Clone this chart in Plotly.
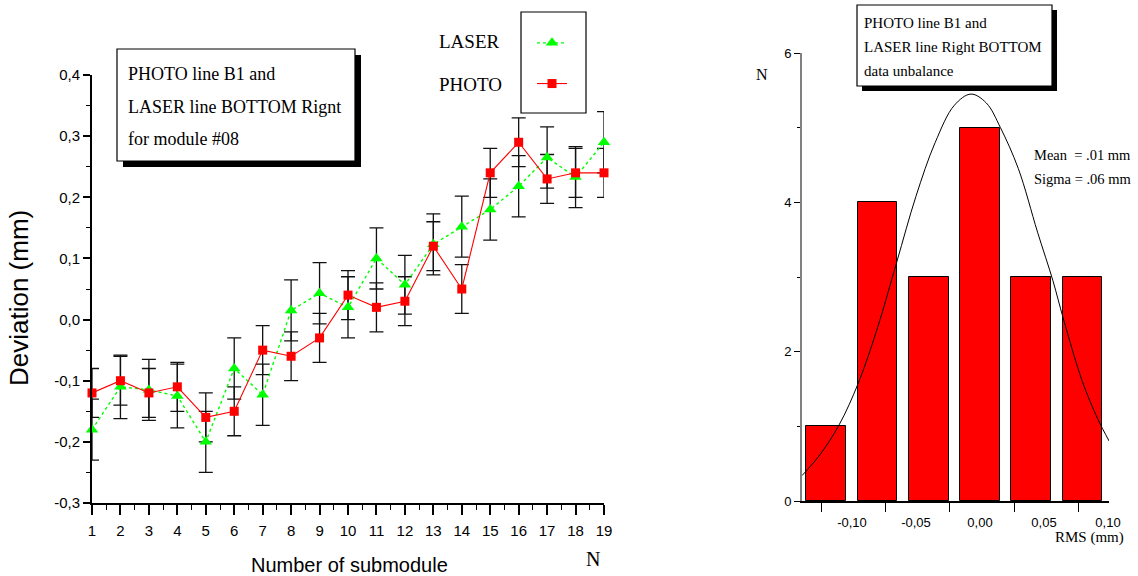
import plotly.graph_objects as go

# ---------------- data ----------------
submodule = list(range(1, 20))
laser_dev = [-0.18, -0.11, -0.115, -0.125, -0.20, -0.08, -0.123, 0.015, 0.043, 0.02,
             0.10, 0.057, 0.123, 0.152, 0.18, 0.218, 0.265, 0.233, 0.29]
laser_err = [0.05, 0.052, 0.05, 0.052, 0.05, 0.05, 0.05, 0.05, 0.05, 0.05,
             0.05, 0.048, 0.05, 0.05, 0.05, 0.05, 0.05, 0.05, 0.05]
photo_dev = [-0.12, -0.10, -0.12, -0.11, -0.16, -0.15, -0.05, -0.06, -0.03, 0.04,
             0.02, 0.03, 0.12, 0.05, 0.24, 0.29, 0.23, 0.24, 0.24]
photo_err = [0.04] * 19

left_ytick_vals = [-0.3, -0.2, -0.1, 0.0, 0.1, 0.2, 0.3, 0.4]
left_ytick_text = ["-0,3", "-0,2", "-0,1", "0,0", "0,1", "0,2", "0,3", "0,4"]

rms_bin_centers = [-0.12, -0.08, -0.04, 0.0, 0.04, 0.08]
rms_counts = [1, 4, 3, 5, 3, 3]

fit_x = [-0.139, -0.125, -0.110, -0.095, -0.080, -0.065, -0.050, -0.035, -0.020, -0.007,
         0.005, 0.016, 0.030, 0.045, 0.057, 0.065, 0.080, 0.092, 0.101]
fit_y = [0.34, 0.62, 1.02, 1.58, 2.32, 3.2, 4.08, 4.8, 5.3, 5.45,
         5.33, 5.0, 4.45, 3.6, 2.95, 2.45, 1.6, 1.1, 0.8]

right_xtick_vals = [-0.10, -0.05, 0.0, 0.05, 0.10]
right_xtick_text = ["-0,10", "-0,05", "0,00", "0,05", "0,10"]
right_ytick_vals = [0, 2, 4, 6]
right_ytick_text = ["0", "2", "4", "6"]

# ---------------- helpers ----------------
W, H = 1138, 576
def px(x):
    return x / W
def py(y):
    return 1 - y / H

SERIF = "Liberation Serif"
SANS = "Liberation Sans"
GREEN = "#00ff00"
RED = "#ff0000"

fig = go.Figure()

# error bars (clipped to plot area)
fig.add_trace(go.Scatter(
    x=submodule, y=laser_dev, mode="markers", marker=dict(opacity=0, size=2),
    error_y=dict(type="data", array=laser_err, color="#111111", thickness=1.3, width=7),
    xaxis="x", yaxis="y", showlegend=False, hoverinfo="skip"))
fig.add_trace(go.Scatter(
    x=submodule, y=photo_dev, mode="markers", marker=dict(opacity=0, size=2),
    error_y=dict(type="data", array=photo_err, color="#111111", thickness=1.3, width=7),
    xaxis="x", yaxis="y", showlegend=False, hoverinfo="skip"))

# series lines and markers (not clipped)
fig.add_trace(go.Scatter(
    x=submodule, y=laser_dev, name="LASER", mode="lines+markers",
    line=dict(color=GREEN, width=1.4, dash="dot"),
    marker=dict(symbol="triangle-up", size=11, color=GREEN),
    cliponaxis=False, xaxis="x3", yaxis="y3", legendgroup="laser"))
fig.add_trace(go.Scatter(
    x=submodule, y=photo_dev, name="PHOTO", mode="lines+markers",
    line=dict(color=RED, width=1.1),
    marker=dict(symbol="square", size=9, color=RED),
    cliponaxis=False, xaxis="x3", yaxis="y3", legendgroup="photo"))

# histogram
fig.add_trace(go.Bar(
    x=rms_bin_centers, y=rms_counts, width=0.031,
    marker=dict(color=RED, line=dict(color="black", width=1)),
    xaxis="x2", yaxis="y2", showlegend=False))
fig.add_trace(go.Scatter(
    x=fit_x, y=fit_y, mode="lines", line=dict(color="black", width=1, shape="spline"),
    xaxis="x2", yaxis="y2", showlegend=False))

tickfont = dict(family=SANS, size=15, color="black")

fig.update_layout(
    width=W, height=H, autosize=False,
    margin=dict(l=0, r=0, t=0, b=0, pad=0, autoexpand=False),
    paper_bgcolor="white", plot_bgcolor="white",
    xaxis=dict(domain=[px(92), px(604)], range=[1, 19], anchor="y", automargin=False,
               showgrid=False, zeroline=False, showline=True, linecolor="black", linewidth=2,
               tickmode="array", tickvals=submodule, ticks="outside", ticklen=10,
               tickwidth=1.5, tickcolor="black", tickfont=tickfont, ticklabelstandoff=3,
               minor=dict(dtick=0.5, tick0=1, ticks="outside", ticklen=5, tickcolor="black",
                          tickwidth=1.2)),
    yaxis=dict(domain=[py(503), py(75)], range=[-0.3, 0.4], anchor="x", automargin=False,
               showgrid=False, zeroline=False, showline=True, linecolor="black", linewidth=2,
               tickmode="array", tickvals=left_ytick_vals, ticktext=left_ytick_text,
               ticks="outside", ticklen=7, tickwidth=1.5, tickcolor="black", tickfont=tickfont,
               minor=dict(dtick=0.05, tick0=0, ticks="outside", ticklen=4, tickcolor="black",
                          tickwidth=1.2)),
    xaxis3=dict(overlaying="x", range=[1, 19], visible=False, anchor="y3"),
    yaxis3=dict(overlaying="y", range=[-0.3, 0.4], visible=False, anchor="x3"),
    xaxis2=dict(domain=[px(802), px(1109)], range=[-0.139, 0.1008], anchor="y2", automargin=False,
                showgrid=False, zeroline=False, showline=True, linecolor="black", linewidth=1.5,
                tickmode="array", tickvals=[v - 0.0234 for v in right_xtick_vals],
                ticktext=right_xtick_text, ticklabelshift=30,
                ticks="outside", ticklen=9, tickwidth=1.3, tickcolor="black",
                tickfont=dict(family=SANS, size=13, color="black")),
    yaxis2=dict(domain=[py(501), py(53)], range=[0, 6], anchor="x2", automargin=False,
                showgrid=False, zeroline=False, showline=True, linecolor="#808080", linewidth=2,
                tickmode="array", tickvals=right_ytick_vals, ticktext=right_ytick_text,
                ticks="outside", ticklen=6, tickwidth=1.3, tickcolor="black",
                tickfont=dict(family=SANS, size=13, color="black"),
                minor=dict(tickvals=[1, 3, 5], ticks="outside", ticklen=3, tickcolor="black")),
    legend=dict(x=px(532), y=py(24), xanchor="left", yanchor="top",
                font=dict(family=SERIF, size=19, color="rgba(0,0,0,0)"),
                bgcolor="rgba(0,0,0,0)", borderwidth=0, tracegroupgap=13, itemwidth=30),
    bargap=0,
)

shapes = []
def box(x0, y0, x1, y1, shadow):
    if shadow:
        shapes.append(dict(type="rect", xref="paper", yref="paper",
                           x0=px(x0 + shadow), x1=px(x1 + shadow), y0=py(y1 + shadow), y1=py(y0 + shadow),
                           fillcolor="black", line=dict(width=0), layer="above"))
    shapes.append(dict(type="rect", xref="paper", yref="paper",
                       x0=px(x0), x1=px(x1), y0=py(y1), y1=py(y0),
                       fillcolor="white", line=dict(color="black", width=1.2), layer="above"))

box(117, 49, 355, 161, 6)
box(857, 5, 1052, 86, 5)
shapes.append(dict(type="rect", xref="paper", yref="paper",
                   x0=px(521), x1=px(586), y0=py(113), y1=py(12),
                   fillcolor="rgba(0,0,0,0)", line=dict(color="black", width=1.2), layer="above"))
fig.update_layout(shapes=shapes)

ann = []
def text(t, x, y, size, family=SERIF, xanchor="left", angle=0):
    ann.append(dict(text=t, x=px(x), y=py(y), xref="paper", yref="paper", showarrow=False,
                    xanchor=xanchor, yanchor="middle", textangle=angle,
                    font=dict(family=family, size=size, color="black")))

text("PHOTO line B1 and", 126, 74, 18)
text("LASER line BOTTOM Rignt", 126, 107, 18)
text("for module #08", 126, 139, 18)
text("LASER", 437, 42, 19)
text("PHOTO", 437, 85, 19)
text("Deviation (mm)", 19, 298, 26, family=SANS, xanchor="center", angle=-90)
text("Number of submodule", 349, 565, 20, family=SANS, xanchor="center")
text("N", 593, 559, 20, xanchor="center")

text("PHOTO line B1 and", 862, 23, 15)
text("LASER line Right BOTTOM", 862, 47, 15)
text("data unbalance", 862, 71, 15)
text("N", 762, 74, 16, xanchor="center")
text("Mean  = .01 mm", 1032, 155, 14.5)
text("Sigma = .06 mm", 1032, 179, 14.5)
text("RMS (mm)", 1126, 537, 15, xanchor="right")
fig.update_layout(annotations=ann)

fig.write_html("out.html", post_script="document.body.style.margin='0px';")
